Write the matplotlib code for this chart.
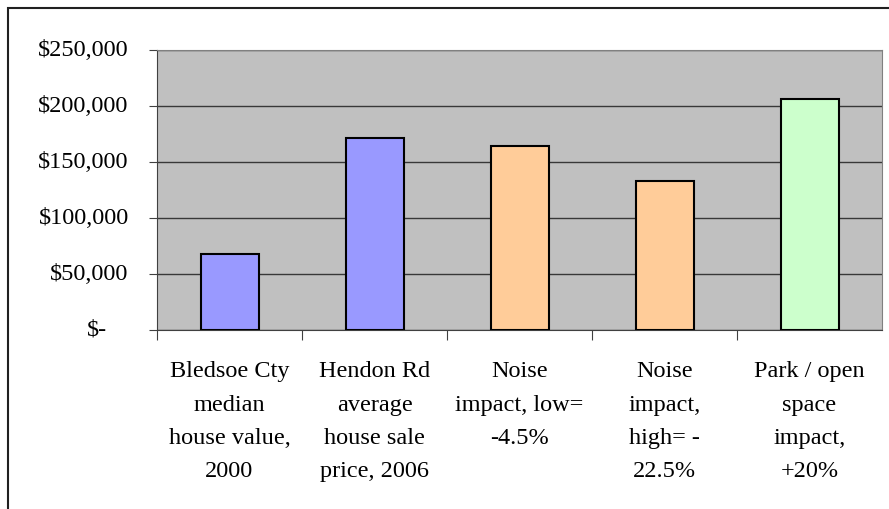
import matplotlib.pyplot as plt
from matplotlib.patches import Rectangle

plt.rcParams['font.family'] = ['Liberation Serif', 'DejaVu Serif']

categories = [
    "Bledsoe Cty\nmedian\nhouse value,\n2000",
    "Hendon Rd\naverage\nhouse sale\nprice, 2006",
    "Noise\nimpact, low=\n-4.5%",
    "Noise\nimpact,\nhigh= -\n22.5%",
    "Park / open\nspace\nimpact,\n+20%",
]
values = [68000, 171700, 164000, 133000, 206000]
colors = ['#9999FF', '#9999FF', '#FFCC99', '#FFCC99', '#CCFFCC']
yticks = [0, 50000, 100000, 150000, 200000, 250000]
ylabels = ['$-', '$50,000', '$100,000', '$150,000', '$200,000', '$250,000']

fig = plt.figure(figsize=(8.89, 5.09), dpi=100)
ax = fig.add_axes([157/889, 1 - 330/509, 725/889, 280/509])
ax.set_facecolor('#C0C0C0')

x = range(len(values))
ax.bar(x, values, width=0.4, color=colors, edgecolor='black', linewidth=1.5, zorder=3)

ax.set_xlim(-0.5, len(values) - 0.5)
ax.set_ylim(0, 250000)

# horizontal gridlines
ax.set_yticks(yticks)
ax.set_yticklabels([])
ax.grid(axis='y', color='#383838', linewidth=1.0, zorder=1)
ax.tick_params(axis='y', length=6, width=0.8, color='#404040')
for v, lab in zip(yticks, ylabels):
    if v == 0:
        ax.text(-0.083, v, lab, transform=ax.get_yaxis_transform(), ha='center', va='center', fontsize=17.5)
    else:
        ax.text(-0.039, v, lab, transform=ax.get_yaxis_transform(), ha='right', va='center', fontsize=17.5)

# category boundary ticks and centred labels
ax.set_xticks([-0.5, 0.5, 1.5, 2.5, 3.5])
ax.set_xticklabels([])
ax.tick_params(axis='x', which='major', length=7, width=0.8, color='#404040')
ax.set_xticks(list(x), categories, minor=True)
ax.tick_params(axis='x', which='minor', length=0, pad=22.5, labelsize=17.5)
for t in ax.get_xticklabels(minor=True):
    t.set_linespacing(1.77)

for side in ['top', 'right']:
    ax.spines[side].set_color('#808080')
ax.spines['left'].set_color('#404040')
ax.spines['bottom'].set_color('#404040')

# outer chart frame
fig.add_artist(Rectangle((8/889, -0.1), 1.2, 1.1 - 8/509, transform=fig.transFigure,
                         fill=False, edgecolor='#202020', linewidth=1.5))

fig.savefig('out.png', dpi=100)
